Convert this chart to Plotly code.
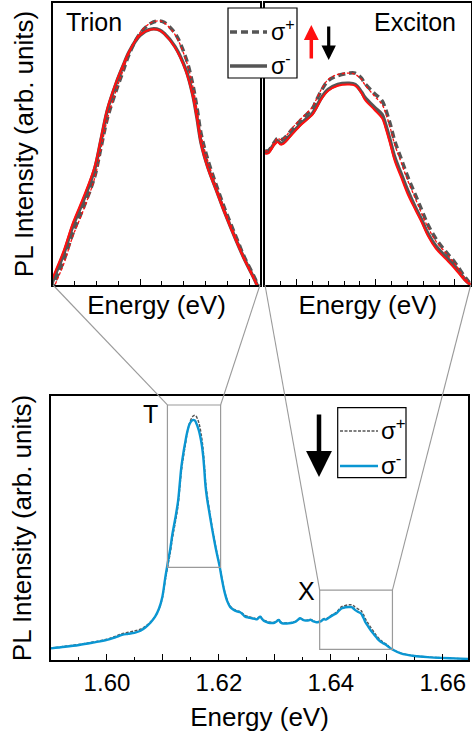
import plotly.graph_objects as go

# ---------------- data (normalised PL intensity) ----------------
# low-energy tail (bottom panel only)
energy_low = [1.5900, 1.5925, 1.5950, 1.5975, 1.6000, 1.6015, 1.6027, 1.6038, 1.6049, 1.6060,
              1.6069, 1.6078, 1.6086, 1.6093, 1.6099]
sm_low = [0.044, 0.050, 0.057, 0.066, 0.076, 0.086, 0.095, 0.099, 0.103, 0.111,
          0.124, 0.142, 0.164, 0.195, 0.240]
sp_low = [0.045, 0.052, 0.059, 0.068, 0.079, 0.090, 0.100, 0.105, 0.110, 0.117,
          0.128, 0.145, 0.165, 0.193, 0.235]

# trion region
energy_trion = [1.6104, 1.6109, 1.6113, 1.6117, 1.6122, 1.6127, 1.6130, 1.6133, 1.6137, 1.6140,
                1.6143, 1.6148, 1.6153, 1.6157, 1.6159, 1.6164, 1.6169, 1.6172, 1.6174, 1.6176,
                1.6179, 1.6183, 1.6187, 1.6192, 1.6196, 1.6201, 1.6205]
sm_down_trion = [0.310, 0.373, 0.420, 0.478, 0.536, 0.602, 0.667, 0.733, 0.791, 0.827,
                 0.860, 0.896, 0.909, 0.907, 0.900, 0.871, 0.820, 0.769, 0.718, 0.660,
                 0.609, 0.558, 0.507, 0.449, 0.406, 0.358, 0.310]
sp_down_trion = [0.300, 0.360, 0.405, 0.462, 0.520, 0.585, 0.650, 0.715, 0.775, 0.815,
                 0.855, 0.900, 0.922, 0.927, 0.924, 0.900, 0.846, 0.792, 0.740, 0.680,
                 0.625, 0.568, 0.515, 0.456, 0.410, 0.362, 0.314]
sm_up_trion = [0.318, 0.380, 0.427, 0.485, 0.543, 0.608, 0.672, 0.737, 0.794, 0.829,
               0.861, 0.896, 0.908, 0.906, 0.899, 0.869, 0.817, 0.766, 0.715, 0.657,
               0.606, 0.555, 0.505, 0.447, 0.404, 0.356, 0.308]
sp_up_trion = [0.292, 0.352, 0.398, 0.456, 0.515, 0.582, 0.648, 0.714, 0.776, 0.817,
               0.857, 0.902, 0.923, 0.927, 0.923, 0.897, 0.842, 0.788, 0.736, 0.676,
               0.622, 0.566, 0.513, 0.455, 0.409, 0.361, 0.313]

# plateau between trion and exciton (bottom panel only)
energy_mid = [1.6210, 1.6215, 1.6220, 1.6226, 1.6232, 1.6238, 1.6243, 1.6247, 1.6253, 1.6259,
              1.6264, 1.6268, 1.6271, 1.6274, 1.6277, 1.6280, 1.6285, 1.6289, 1.6294, 1.6299,
              1.6303, 1.6307, 1.6310, 1.6313, 1.6319, 1.6325, 1.6331, 1.6337, 1.6341, 1.6345,
              1.6350, 1.6355, 1.6360, 1.6364, 1.6369, 1.6374, 1.6378]
sm_mid = [0.258, 0.222, 0.201, 0.190, 0.184, 0.181, 0.172, 0.164, 0.161, 0.158,
          0.156, 0.154, 0.160, 0.164, 0.155, 0.149, 0.144, 0.141, 0.140, 0.141,
          0.146, 0.152, 0.143, 0.139, 0.138, 0.139, 0.141, 0.145, 0.152, 0.158,
          0.152, 0.149, 0.150, 0.152, 0.146, 0.143, 0.144]
sp_mid = [0.262, 0.226, 0.205, 0.193, 0.187, 0.183, 0.175, 0.168, 0.165, 0.161,
          0.158, 0.156, 0.161, 0.166, 0.157, 0.152, 0.147, 0.144, 0.143, 0.143,
          0.148, 0.153, 0.145, 0.141, 0.140, 0.141, 0.143, 0.147, 0.153, 0.158,
          0.154, 0.151, 0.152, 0.154, 0.148, 0.145, 0.145]

# exciton region
energy_exciton = [1.6380, 1.6382, 1.6386, 1.6388, 1.6390, 1.6392, 1.6397, 1.6403, 1.6410, 1.6412,
                  1.6416, 1.6420, 1.6426, 1.6433, 1.6437, 1.6441, 1.6443, 1.6449, 1.6454, 1.6456,
                  1.6459, 1.6462, 1.6466, 1.6470, 1.6475, 1.6479, 1.6483, 1.6488, 1.6494, 1.6500,
                  1.6506, 1.6510]
sm_down_exc = [0.146, 0.146, 0.153, 0.155, 0.153, 0.154, 0.161, 0.169, 0.177, 0.181,
               0.190, 0.196, 0.200, 0.201, 0.200, 0.194, 0.190, 0.182, 0.176, 0.169,
               0.156, 0.142, 0.129, 0.116, 0.102, 0.092, 0.081, 0.071, 0.063, 0.055,
               0.045, 0.040]
sp_down_exc = [0.147, 0.147, 0.154, 0.157, 0.156, 0.157, 0.164, 0.172, 0.181, 0.186,
               0.196, 0.203, 0.207, 0.209, 0.209, 0.205, 0.201, 0.193, 0.187, 0.181,
               0.169, 0.155, 0.141, 0.127, 0.112, 0.100, 0.088, 0.077, 0.067, 0.058,
               0.047, 0.041]
sm_up_exc = [0.145, 0.145, 0.152, 0.154, 0.152, 0.153, 0.160, 0.168, 0.176, 0.180,
             0.189, 0.195, 0.199, 0.200, 0.199, 0.193, 0.188, 0.180, 0.173, 0.166,
             0.153, 0.139, 0.126, 0.113, 0.100, 0.090, 0.079, 0.069, 0.061, 0.053,
             0.044, 0.040]
sp_up_exc = [0.147, 0.147, 0.154, 0.157, 0.156, 0.157, 0.165, 0.173, 0.182, 0.187,
             0.197, 0.204, 0.208, 0.209, 0.208, 0.204, 0.200, 0.191, 0.184, 0.178,
             0.166, 0.152, 0.138, 0.124, 0.109, 0.097, 0.086, 0.075, 0.066, 0.057,
             0.046, 0.041]

# high-energy tail (bottom panel only)
energy_high = [1.6525, 1.6549, 1.6578, 1.6596, 1.6620, 1.6645]
sm_high = [0.025, 0.015, 0.010, 0.008, 0.006, 0.004]
sp_high = [0.026, 0.016, 0.011, 0.008, 0.006, 0.004]

# axis windows
full_range = [1.5900, 1.6645]
full_yrange = [0.0, 1.0]
trion_window = [1.6108, 1.6203]
trion_yrange = [0.351, 0.966]
exciton_window = [1.6380, 1.6510]
exciton_yrange = [0.040, 0.265]
bottom_tickvals = [1.60, 1.61, 1.62, 1.63, 1.64, 1.65, 1.66]
bottom_ticktext = ["1.60", "", "1.62", "", "1.64", "", "1.66"]
legend_labels = ["σ<sup>+</sup>", "σ<sup>-</sup>"]

energy = energy_low + energy_trion + energy_mid + energy_exciton + energy_high
sm_down = sm_low + sm_down_trion + sm_mid + sm_down_exc + sm_high
sp_down = sp_low + sp_down_trion + sp_mid + sp_down_exc + sp_high

# ---------------- styling ----------------
FONT = "Liberation Sans, Arial, sans-serif"
W, H = 472, 739
GRAY = "#555555"
RED = "#ff1010"
BLUE = "#0a96d2"
BOX = "#9a9a9a"

style_sp_bottom = dict(color=GRAY, width=1.4, dash="3px,1.5px")
style_sm_bottom = dict(color=BLUE, width=2.4)
style_sp_top = dict(color=GRAY, width=3.5, dash="7px,4px")
style_sm_top = dict(color=GRAY, width=3.5)
style_sp_up = dict(color=RED, width=1.3, dash="3px,2px")
style_sm_up = dict(color=RED, width=2.0)

dom_bx = [51 / W, 468 / W]
dom_by = [1 - 660 / H, 1 - 396 / H]
dom_tlx = [53 / W, 260 / W]
dom_trx = [265 / W, 470.7 / W]
dom_ty = [1 - 285 / H, 1 - 3 / H]

fig = go.Figure()

# bottom panel
fig.add_trace(go.Scatter(x=energy, y=sp_down, xaxis="x", yaxis="y", mode="lines",
                         line=dict(shape="spline", **style_sp_bottom), name=legend_labels[0]))
fig.add_trace(go.Scatter(x=energy, y=sm_down, xaxis="x", yaxis="y", mode="lines",
                         line=dict(shape="spline", **style_sm_bottom), name=legend_labels[1]))

# zoom panels
for xa, ya, upE, upP, upM in [("x2", "y2", energy_trion, sp_up_trion, sm_up_trion),
                              ("x3", "y3", energy_exciton, sp_up_exc, sm_up_exc)]:
    fig.add_trace(go.Scatter(x=energy, y=sp_down, xaxis=xa, yaxis=ya, mode="lines",
                             line=dict(shape="spline", **style_sp_top), name=legend_labels[0]))
    fig.add_trace(go.Scatter(x=energy, y=sm_down, xaxis=xa, yaxis=ya, mode="lines",
                             line=dict(shape="spline", **style_sm_top), name=legend_labels[1]))
    fig.add_trace(go.Scatter(x=upE, y=upP, xaxis=xa, yaxis=ya, mode="lines",
                             line=dict(shape="spline", **style_sp_up), name=legend_labels[0]))
    fig.add_trace(go.Scatter(x=upE, y=upM, xaxis=xa, yaxis=ya, mode="lines",
                             line=dict(shape="spline", **style_sm_up), name=legend_labels[1]))

axis_common = dict(showline=True, linecolor="black", linewidth=1.5, mirror=True,
                   showgrid=False, zeroline=False, tickcolor="black", tickwidth=1.2)
title_font = dict(family=FONT, size=26, color="black")

fig.update_layout(
    width=W, height=H, autosize=False, showlegend=False,
    margin=dict(l=0, r=0, t=0, b=0),
    paper_bgcolor="white", plot_bgcolor="white",
    font=dict(family=FONT, color="black"),
    xaxis=dict(domain=dom_bx, anchor="y", range=full_range, ticks="inside", ticklen=6,
               tickmode="array", tickvals=bottom_tickvals, ticktext=bottom_ticktext,
               tickfont=dict(family=FONT, size=24, color="black"),
               minor=dict(dtick=0.005, tick0=1.595, ticks="inside", ticklen=3.5,
                          tickcolor="black", tickwidth=1.2),
               title=dict(text="Energy (eV)", font=title_font, standoff=13),
               **axis_common),
    yaxis=dict(domain=dom_by, anchor="x", range=full_yrange, ticks="", showticklabels=False,
               title=dict(text="PL Intensity (arb. units)", font=title_font, standoff=10),
               **axis_common),
    xaxis2=dict(domain=dom_tlx, anchor="y2", range=trion_window, ticks="inside", ticklen=6,
                tick0=1.6148, dtick=0.005, showticklabels=False,
                minor=dict(tick0=1.6118, dtick=0.001, ticks="inside", ticklen=4,
                           tickcolor="black", tickwidth=1.2),
                title=dict(text="Energy (eV)", font=title_font, standoff=10),
                **axis_common),
    yaxis2=dict(domain=dom_ty, anchor="x2", range=trion_yrange, ticks="", showticklabels=False,
                title=dict(text="PL Intensity (arb. units)", font=title_font, standoff=10),
                **axis_common),
    xaxis3=dict(domain=dom_trx, anchor="y3", range=exciton_window, ticks="inside", ticklen=6,
                tick0=1.640, dtick=0.005, showticklabels=False,
                minor=dict(tick0=1.639, dtick=0.001, ticks="inside", ticklen=4,
                           tickcolor="black", tickwidth=1.2),
                title=dict(text="Energy (eV)", font=title_font, standoff=10),
                **axis_common),
    yaxis3=dict(domain=dom_ty, anchor="x3", range=exciton_yrange, ticks="", showticklabels=False,
                **axis_common),
)


def to_paper(dom, rng, v):
    return dom[0] + (v - rng[0]) / (rng[1] - rng[0]) * (dom[1] - dom[0])


def px_x(v):
    return v / W


def px_y(v):
    return 1 - v / H


shapes = []
# zoom boxes on the bottom panel
for win, yr in [(trion_window, trion_yrange), (exciton_window, exciton_yrange)]:
    shapes.append(dict(type="rect", xref="x", yref="y", x0=win[0], x1=win[1], y0=yr[0], y1=yr[1],
                       line=dict(color=BOX, width=1.2)))
# connector lines to the zoom panels
for win, yr, domx in [(trion_window, trion_yrange, dom_tlx), (exciton_window, exciton_yrange, dom_trx)]:
    ytop = to_paper(dom_by, full_yrange, yr[1])
    for i in (0, 1):
        shapes.append(dict(type="line", xref="paper", yref="paper",
                           x0=to_paper(dom_bx, full_range, win[i]), y0=ytop,
                           x1=domx[i], y1=dom_ty[0], line=dict(color=BOX, width=1.1)))

annotations = []
# legends (box, sample lines, labels)
legend_specs = [
    # box (x0, y0, x1, y1), sample x-range, row y's, text x, font size, styles
    dict(box=(228, 8, 297, 78), lx=(230, 267), rows=(32, 66), tx=269, fs=23,
         styles=(style_sp_top, style_sm_top)),
    dict(box=(337.7, 407.7, 406, 477.7), lx=(340, 378), rows=(431, 466), tx=379, fs=24,
         styles=(style_sp_bottom, style_sm_bottom)),
]
for spec in legend_specs:
    bx0, by0, bx1, by1 = spec["box"]
    shapes.append(dict(type="rect", xref="paper", yref="paper", x0=px_x(bx0), x1=px_x(bx1),
                       y0=px_y(by1), y1=px_y(by0), fillcolor="white",
                       line=dict(color="black", width=1.2), layer="above"))
    for row_y, st, lab in zip(spec["rows"], spec["styles"], legend_labels):
        shapes.append(dict(type="line", xref="paper", yref="paper",
                           x0=px_x(spec["lx"][0]), x1=px_x(spec["lx"][1]),
                           y0=px_y(row_y), y1=px_y(row_y), line=dict(**st), layer="above"))
        annotations.append(dict(text=lab, xref="paper", yref="paper", x=px_x(spec["tx"]),
                                y=px_y(row_y - 2), xanchor="left", yanchor="middle",
                                showarrow=False,
                                font=dict(family=FONT, size=spec["fs"], color="black")))
fig.update_layout(shapes=shapes)

ann_font = dict(family=FONT, size=25, color="black")
annotations += [
    dict(text="Trion", xref="paper", yref="paper", x=px_x(64), y=px_y(22), xanchor="left",
         yanchor="middle", showarrow=False, font=ann_font),
    dict(text="Exciton", xref="paper", yref="paper", x=px_x(458), y=px_y(22), xanchor="right",
         yanchor="middle", showarrow=False, font=ann_font),
    dict(text="T", xref="paper", yref="paper", x=px_x(150), y=px_y(414), xanchor="center",
         yanchor="middle", showarrow=False, font=ann_font),
    dict(text="X", xref="paper", yref="paper", x=px_x(306), y=px_y(591), xanchor="center",
         yanchor="middle", showarrow=False, font=ann_font),
    # field-direction arrows
    dict(text="", xref="paper", yref="paper", x=px_x(311.3), y=px_y(25), ax=0, ay=35,
         showarrow=True, arrowhead=2, arrowwidth=3.5, arrowsize=0.85, arrowcolor=RED),
    dict(text="", xref="paper", yref="paper", x=px_x(328.7), y=px_y(60), ax=0, ay=-35,
         showarrow=True, arrowhead=2, arrowwidth=3.2, arrowsize=0.9, arrowcolor="black"),
    dict(text="", xref="paper", yref="paper", x=px_x(319), y=px_y(477), ax=0, ay=-64,
         showarrow=True, arrowhead=2, arrowwidth=4.5, arrowsize=1.15, arrowcolor="black"),
]
fig.update_layout(annotations=annotations)

fig.write_html("out.html", config={"displayModeBar": False},
               post_script="document.body.style.margin='0px';document.body.style.overflow='hidden';")
